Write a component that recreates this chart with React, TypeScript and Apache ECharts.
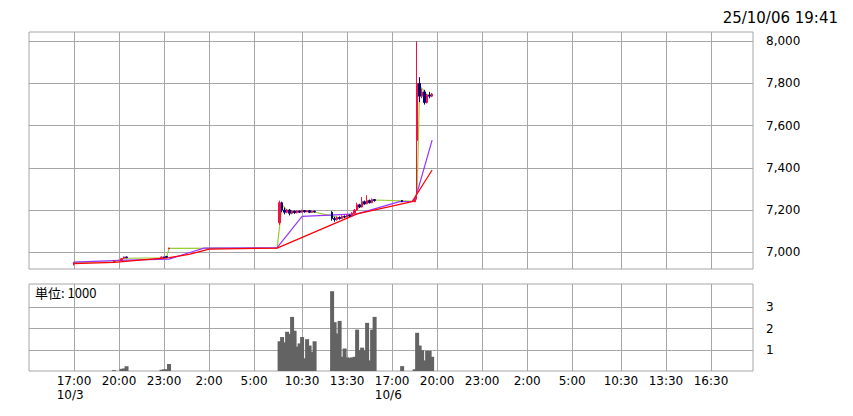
import React, { useEffect, useRef } from "react";
import * as echarts from "echarts";

// ---- time mapping: each session is laid on a compressed trading timeline (axis unit = hours)
const SESSION_OFFSET: Record<string, number> = {
  "3N": -14, // 10/3 night session
  "4N": 10, // 10/4 early morning (night session continued)
  "6D": 7.7, // 10/6 day session
  "6N": 7.2, // 10/6 night session
  "7N": 31.2, // 10/7 early morning
  "7D": 28.95, // 10/7 day session
};
const t = (s: string): number => {
  const [sess, hm] = s.split(" ");
  const [h, m] = hm.split(":").map(Number);
  return h + m / 60 + SESSION_OFFSET[sess];
};
const X_MAX = 48.25;

// ---- tick labels
const xTickTimes = [
  "3N 17:00", "3N 20:00", "3N 23:00", "4N 02:00", "4N 05:00", "6D 10:30", "6D 13:30",
  "6N 17:00", "6N 20:00", "6N 23:00", "7N 02:00", "7N 05:00", "7D 10:30", "7D 13:30", "7D 16:30",
];
const xTickLabels = [
  "17:00\n10/3\u00a0\u00a0", "20:00", "23:00", "2:00", "5:00", "10:30", "13:30",
  "17:00\n10/6\u00a0\u00a0", "20:00", "23:00", "2:00", "5:00", "10:30", "13:30", "16:30",
];
const priceTicks = [7000, 7200, 7400, 7600, 7800, 8000];
const volumeTicks = [1, 2, 3];
const timestampText = "25/10/06 19:41";
const unitText = "単位: 1000";

// ---- price candles: [time, open, close, low, high]
const candles: [string, number, number, number, number][] = [
  ["3N 17:00", 6945, 6952, 6938, 6955],
  ["3N 19:40", 6955, 6960, 6953, 6962],
  ["3N 20:10", 6962, 6970, 6960, 6972],
  ["3N 20:20", 6972, 6978, 6970, 6980],
  ["3N 20:30", 6978, 6975, 6972, 6980],
  ["3N 22:50", 6975, 6978, 6974, 6980],
  ["3N 23:00", 6978, 6976, 6975, 6979],
  ["3N 23:10", 6980, 6977, 6975, 6982],
  ["3N 23:20", 7017, 7020, 7016, 7022],
  ["6D 09:00", 7140, 7235, 7130, 7245],
  ["6D 09:10", 7235, 7200, 7190, 7240],
  ["6D 09:20", 7200, 7190, 7180, 7212],
  ["6D 09:30", 7190, 7200, 7185, 7205],
  ["6D 09:40", 7200, 7185, 7175, 7205],
  ["6D 09:50", 7185, 7195, 7180, 7200],
  ["6D 10:00", 7195, 7188, 7182, 7198],
  ["6D 10:10", 7188, 7196, 7185, 7200],
  ["6D 10:20", 7196, 7190, 7186, 7198],
  ["6D 10:30", 7190, 7198, 7188, 7202],
  ["6D 10:40", 7198, 7192, 7188, 7200],
  ["6D 10:50", 7192, 7197, 7190, 7200],
  ["6D 11:00", 7197, 7190, 7186, 7199],
  ["6D 11:10", 7190, 7195, 7188, 7198],
  ["6D 11:20", 7195, 7192, 7188, 7197],
  ["6D 12:30", 7190, 7160, 7150, 7195],
  ["6D 12:40", 7160, 7155, 7145, 7168],
  ["6D 12:50", 7155, 7165, 7150, 7170],
  ["6D 13:00", 7165, 7160, 7155, 7170],
  ["6D 13:10", 7160, 7170, 7158, 7175],
  ["6D 13:20", 7170, 7168, 7162, 7175],
  ["6D 13:30", 7168, 7175, 7165, 7180],
  ["6D 13:40", 7175, 7172, 7168, 7180],
  ["6D 13:50", 7172, 7185, 7170, 7190],
  ["6D 14:00", 7185, 7200, 7182, 7205],
  ["6D 14:10", 7200, 7225, 7198, 7235],
  ["6D 14:20", 7225, 7215, 7210, 7230],
  ["6D 14:30", 7215, 7240, 7212, 7262],
  ["6D 14:40", 7240, 7230, 7225, 7245],
  ["6D 14:50", 7230, 7245, 7228, 7270],
  ["6D 15:00", 7245, 7235, 7232, 7250],
  ["6D 15:10", 7235, 7250, 7233, 7255],
  ["6D 15:20", 7250, 7245, 7240, 7252],
  ["6N 17:40", 7245, 7240, 7238, 7248],
  ["6N 18:30", 7240, 7250, 7238, 7255],
  ["6N 18:40", 7530, 7800, 7250, 8000],
  ["6N 18:50", 7800, 7740, 7712, 7830],
  ["6N 19:00", 7740, 7760, 7730, 7775],
  ["6N 19:10", 7760, 7710, 7700, 7770],
  ["6N 19:20", 7710, 7745, 7705, 7750],
  ["6N 19:30", 7745, 7740, 7730, 7760],
  ["6N 19:40", 7740, 7750, 7735, 7755],
];

// ---- moving averages: [time, value]
const maShort: [string, number][] = [
  ["3N 17:00", 6952], ["3N 19:40", 6955], ["3N 20:20", 6972], ["3N 23:10", 6974], ["3N 23:20", 7019],
  ["6D 08:50", 7020], ["6D 09:10", 7225], ["6D 09:30", 7200], ["6D 10:00", 7192], ["6D 10:30", 7195],
  ["6D 11:00", 7193], ["6D 11:20", 7190], ["6D 12:40", 7170], ["6D 13:00", 7162], ["6D 13:30", 7170],
  ["6D 14:00", 7190], ["6D 14:20", 7215], ["6D 14:50", 7240], ["6D 15:20", 7248], ["6N 17:40", 7244],
  ["6N 18:30", 7242], ["6N 18:40", 7290], ["6N 18:50", 7790], ["6N 19:00", 7775], ["6N 19:10", 7760],
  ["6N 19:20", 7745], ["6N 19:40", 7748],
];
const maMid: [string, number][] = [
  ["3N 17:00", 6954], ["3N 20:30", 6963], ["3N 23:20", 6968], ["4N 00:40", 6998], ["4N 01:40", 7020],
  ["6D 08:50", 7022], ["6D 10:30", 7170], ["6D 14:10", 7182], ["6N 17:30", 7240], ["6N 18:30", 7242],
  ["6N 19:40", 7532],
];
const maLong: [string, number][] = [
  ["3N 17:00", 6946], ["3N 19:40", 6952], ["3N 23:20", 6975], ["4N 00:40", 6990], ["4N 02:00", 7015],
  ["6D 08:50", 7020], ["6D 14:10", 7182], ["6N 18:20", 7240], ["6N 19:40", 7390],
];

// ---- volume (unit: 1000): [time, value]
const volume: [string, number][] = [
  ["3N 19:40", 0.04], ["3N 20:10", 0.1], ["3N 20:20", 0.12], ["3N 20:30", 0.22],
  ["3N 22:50", 0.06], ["3N 23:00", 0.08], ["3N 23:10", 0.08], ["3N 23:20", 0.33],
  ["6D 09:00", 1.4], ["6D 09:10", 1.6], ["6D 09:20", 1.35], ["6D 09:30", 1.85], ["6D 09:40", 1.75],
  ["6D 09:50", 2.55], ["6D 10:00", 1.9], ["6D 10:10", 1.15], ["6D 10:20", 1.3], ["6D 10:30", 1.6],
  ["6D 10:40", 0.6], ["6D 10:50", 1.5], ["6D 11:00", 1.2], ["6D 11:10", 0.9], ["6D 11:20", 1.4],
  ["6D 12:30", 3.76], ["6D 12:40", 2.3], ["6D 12:50", 1.77], ["6D 13:00", 2.36], ["6D 13:10", 0.67],
  ["6D 13:20", 1.06], ["6D 13:30", 0.64], ["6D 13:40", 0.62], ["6D 13:50", 0.64], ["6D 14:00", 0.67],
  ["6D 14:10", 1.95], ["6D 14:20", 0.98], ["6D 14:30", 1.1], ["6D 14:40", 0.98], ["6D 14:50", 2.27],
  ["6D 15:00", 0.5], ["6D 15:10", 1.95], ["6D 15:20", 2.55],
  ["6N 17:40", 0.23], ["6N 18:30", 0.08], ["6N 18:40", 1.8], ["6N 18:50", 1.2], ["6N 19:00", 0.98],
  ["6N 19:10", 0.5], ["6N 19:20", 0.95], ["6N 19:30", 0.95], ["6N 19:40", 0.67],
];

const FONT = "DejaVu Sans";
const GRID_COLOR = "#a6a6a6";
const xTickValues = xTickTimes.map(t);
const labelFor = (v: number) => {
  const i = xTickValues.findIndex((x) => Math.abs(x - v) < 1e-6);
  return i >= 0 ? xTickLabels[i] : "";
};

const xAxis = (gridIndex: number, showLabel: boolean) => ({
  type: "value",
  gridIndex,
  min: 0,
  max: X_MAX,
  axisLine: { show: false },
  axisTick: { show: false, customValues: xTickValues },
  axisLabel: {
    show: showLabel,
    customValues: xTickValues,
    formatter: labelFor,
    color: "#000",
    fontFamily: FONT,
    fontSize: 12,
    lineHeight: 14,
    margin: 3,
  },
  splitLine: { show: true, lineStyle: { color: GRID_COLOR, width: 1 } },
});

const yAxis = (gridIndex: number, min: number, max: number, ticks: number[], fmt: (v: number) => string) => ({
  type: "value",
  gridIndex,
  position: "right",
  min,
  max,
  axisLine: { show: false },
  axisTick: { show: true, inside: false, length: 7, customValues: ticks, lineStyle: { color: GRID_COLOR } },
  axisLabel: { customValues: ticks, formatter: fmt, color: "#000", fontFamily: FONT, fontSize: 12, margin: 13 },
  splitLine: { show: true, lineStyle: { color: GRID_COLOR, width: 1 } },
});

const lineSeries = (data: [string, number][], color: string, z: number) => ({
  type: "line",
  xAxisIndex: 0,
  yAxisIndex: 0,
  data: data.map(([s, v]) => [t(s), v]),
  showSymbol: false,
  symbol: "none",
  lineStyle: { color, width: 1.2 },
  z,
});

const option = {
  animation: false,
  backgroundColor: "#fff",
  grid: [
    { left: 29, right: 100, top: 32, height: 237, show: true, borderColor: GRID_COLOR, borderWidth: 1 },
    { left: 29, right: 100, top: 284, height: 87, show: true, borderColor: GRID_COLOR, borderWidth: 1 },
  ],
  xAxis: [xAxis(0, false), xAxis(1, true)],
  yAxis: [
    yAxis(0, 6921, 8044, priceTicks, (v: number) => v.toLocaleString("en-US")),
    yAxis(1, 0, 4.1, volumeTicks, (v: number) => String(v)),
  ],
  graphic: [
    {
      type: "text",
      right: 15,
      top: 10,
      style: { text: timestampText, font: `15px '${FONT}'`, fill: "#000" },
    },
    {
      type: "text",
      left: 35,
      top: 286,
      z: 10,
      style: { text: unitText, font: "13px 'Noto Sans CJK JP'", fill: "#000" },
    },
  ],
  series: [
    lineSeries(maShort, "#99cc33", 3),
    lineSeries(maMid, "#9933ff", 4),
    lineSeries(maLong, "#ff0000", 5),
    {
      type: "candlestick",
      xAxisIndex: 0,
      yAxisIndex: 0,
      data: candles.map(([s, o, c, l, h]) => [t(s), o, c, l, h]),
      encode: { x: 0, y: [1, 2, 3, 4] },
      barWidth: 2,
      itemStyle: { color: "#ee1144", color0: "#000080", borderColor: "#ee1144", borderColor0: "#000080", borderWidth: 1 },
      z: 6,
    },
    {
      type: "bar",
      xAxisIndex: 1,
      yAxisIndex: 1,
      data: volume.map(([s, v]) => [t(s), v]),
      barWidth: 4,
      barGap: "-100%",
      itemStyle: { color: "#636363", borderWidth: 0 },
    },
  ],
};

export default function App() {
  const ref = useRef<HTMLDivElement>(null);
  useEffect(() => {
    const chart = echarts.init(ref.current!, null, { renderer: "svg" });
    chart.setOption(option as any);
    return () => chart.dispose();
  }, []);
  return (
    <div
      ref={ref}
      style={{ position: "absolute", left: 0, top: 0, width: 853, height: 416, background: "#fff" }}
    />
  );
}
